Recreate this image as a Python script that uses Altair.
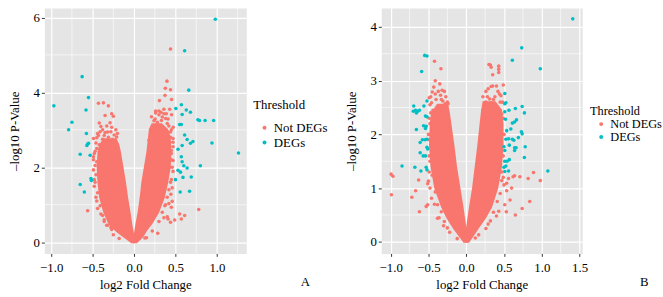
import altair as alt
import pandas as pd

RED = "#F8766D"
CYAN = "#00BFC4"
FONT = "Liberation Serif, Times New Roman, DejaVu Serif, serif"

# ---------------- Panel A data ----------------
a_ns_x = [-0.43, -0.37, -0.31, -0.35, -0.27, -0.25, -0.42, -0.40, -0.29, -0.27, -0.35, -0.45, -0.49, -0.24,
          -0.21, -0.32, -0.49, -0.49, -0.48, -0.48, -0.44, -0.45, -0.41, -0.38, -0.27, -0.28, -0.56, -0.49,
          -0.48, -0.45, -0.42, -0.47, -0.46, -0.32, -0.36,
          -0.46, -0.47, -0.46, -0.47, -0.45, -0.44, -0.40, -0.36, -0.33, -0.25, -0.18, -0.44, -0.38, -0.33,
          -0.22, -0.20,
          -0.43, -0.38, -0.30, -0.26, -0.40, -0.34, -0.22, -0.36, -0.28, -0.41, -0.31, -0.24,
          0.44, 0.397, 0.377, 0.44, 0.373, 0.452, 0.306, 0.325, 0.36, 0.389, 0.452, 0.254, 0.24, 0.34, 0.41,
          0.40, 0.294, 0.214, 0.35, 0.472, 0.44, 0.214, 0.27, 0.37, 0.18, 0.33, 0.47, 0.43, 0.47,
          0.55, 0.61, 0.57, 0.49, 0.78, 0.44, 0.41, 0.286, 0.13, 0.40, 0.36, 0.45, 0.37, 0.46, 0.42, 0.444,
          0.46, 0.45, 0.47, 0.43, 0.47, 0.45, 0.47,
          0.45, 0.46, 0.44, 0.42, 0.40, 0.38, 0.34, 0.30, 0.22, 0.15, 0.44, 0.45, 0.21, 0.26, 0.30, 0.43,
          0.45,
          0.24, 0.28, 0.32, 0.38, 0.42, 0.30, 0.36, 0.26, 0.40, 0.22, 0.33, 0.20]
a_ns_y = [3.71, 3.72, 3.64, 3.38, 3.43, 3.36, 3.18, 3.09, 3.19, 3.07, 2.93, 2.79, 2.77, 2.86,
          2.81, 2.94, 2.28, 1.93, 1.67, 1.49, 1.32, 1.10, 0.97, 0.71, 0.34, 0.39, 0.84, 2.20,
          2.37, 2.50, 2.60, 2.43, 2.65, 0.45, 0.60,
          1.20, 1.60, 1.80, 2.05, 2.15, 0.90, 0.75, 0.55, 0.45, 0.20, 0.10, 2.90, 3.00, 3.10,
          3.00, 2.90,
          2.85, 2.75, 2.70, 2.75, 2.55, 2.60, 2.65, 2.85, 2.95, 2.95, 2.80, 2.55,
          5.16, 4.30, 4.11, 4.07, 3.92, 3.81, 3.78, 3.47, 3.43, 3.43, 3.40, 3.29, 3.24, 3.34, 3.29,
          3.17, 3.12, 3.07, 3.03, 3.07, 2.94, 2.92, 2.88, 2.84, 2.72, 2.72, 2.77, 2.67, 2.67,
          0.75, 0.71, 0.62, 0.59, 0.87, 0.53, 0.62, 0.24, 0.11, 0.68, 0.65, 0.93, 0.97, 1.09, 1.03, 1.28,
          1.45, 1.67, 1.89, 2.00, 2.18, 2.37, 2.55,
          2.20, 2.00, 1.60, 1.40, 1.20, 1.00, 0.80, 0.55, 0.30, 0.12, 2.80, 3.00, 3.35, 3.45, 3.50, 3.55,
          2.45,
          3.00, 3.20, 3.10, 3.30, 3.10, 3.40, 3.55, 3.50, 2.95, 2.85, 3.25, 3.00]
a_deg_x = [-0.627, -0.55, -0.968, -0.58, -0.75, -0.79, -0.575, -0.55, -0.57, -0.56, -0.65, -0.53, -0.52,
           -0.515, -0.65, -0.60,
           0.98, 0.61, 0.66, 0.504, 0.571, 0.63, 0.68, 0.58, 0.77, 0.79, 0.857, 0.96, 0.55, 0.57, 0.61,
           0.64, 0.71, 0.68, 0.58, 0.94, 0.53, 1.26, 0.57, 0.58, 0.60, 0.64, 0.80, 0.53, 0.56, 0.50, 0.59,
           0.69, 0.556, 0.67]
a_deg_y = [4.42, 3.86, 3.64, 3.53, 3.20, 3.00, 2.90, 2.64, 2.58, 2.62, 2.35, 2.32, 1.70,
           1.65, 1.54, 1.34,
           5.95, 5.11, 4.06, 3.57, 3.67, 3.53, 3.47, 3.41, 3.27, 3.25, 3.25, 3.25, 3.14, 3.14, 2.86,
           2.74, 2.69, 2.64, 2.58, 2.65, 2.48, 2.38, 2.28, 2.15, 2.04, 1.98, 2.04, 1.92, 1.87, 1.67, 1.73,
           1.74, 1.34, 1.36]
# dense cloud envelope (left and right wings)
a_left_y = [0.00, 0.10, 0.18, 0.30, 0.50, 0.80, 1.20, 1.60, 2.00, 2.40, 2.60, 2.75]
a_left_outer = [-0.03, -0.09, -0.14, -0.21, -0.30, -0.36, -0.41, -0.43, -0.44, -0.43, -0.41, -0.36]
a_left_inner = [0.0, 0.0, -0.01, -0.02, -0.035, -0.055, -0.085, -0.11, -0.14, -0.17, -0.19, -0.22]
a_right_y = [0.00, 0.10, 0.18, 0.30, 0.50, 0.80, 1.20, 1.60, 2.00, 2.40, 2.80, 3.00, 3.15]
a_right_inner = [0.0, 0.0, 0.005, 0.015, 0.03, 0.055, 0.08, 0.10, 0.13, 0.16, 0.18, 0.19, 0.22]
a_right_outer = [0.03, 0.08, 0.11, 0.14, 0.21, 0.29, 0.36, 0.40, 0.43, 0.44, 0.43, 0.40, 0.33]

# ---------------- Panel B data ----------------
b_ns_x = [-0.42, -0.335, -0.41, -0.35, -0.43, -0.32, -0.29, -0.45, -0.34, -0.49, -0.40, -0.31, -0.46, -0.28,
          -0.24, -0.36,
          -0.995, -0.97, -0.99, -0.72, -0.67, -0.63, -0.62, -0.51, -0.53, -0.50, -0.51, -0.45, -0.46, -0.41,
          -0.38, -0.33, -0.38, -0.29, -0.25, -0.48, -0.49, -0.48, -0.47,
          -0.49, -0.48, -0.49, -0.50, -0.49, -0.48, -0.36, -0.30, -0.22, -0.12, -0.42, -0.47, -0.27, -0.25,
          -0.44, -0.38, -0.30, -0.27, -0.33, -0.41, -0.37,
          0.30, 0.32, 0.33, 0.43, 0.43, 0.43, 0.35, 0.33, 0.35, 0.40, 0.49, 0.46, 0.28, 0.31, 0.36, 0.24,
          0.33, 0.42, 0.47, 0.23,
          0.89, 0.82, 0.98, 0.84, 0.74, 0.65, 0.71, 0.62, 0.64, 0.60, 0.535, 0.58, 0.51, 0.53, 0.43, 0.40,
          0.32, 0.29, 0.165, 0.535, 0.50, 0.47, 0.56,
          0.48, 0.49, 0.50, 0.49, 0.47, 0.45, 0.41, 0.36, 0.26, 0.12, 0.22, 0.26, 0.44, 0.49,
          0.22, 0.26, 0.30, 0.38, 0.45, 0.42, 0.29]
b_ns_y = [3.36, 3.22, 3.00, 2.94, 2.88, 2.82, 2.80, 2.79, 2.73, 2.68, 2.65, 2.62, 2.59, 2.57,
          2.57, 2.53,
          1.26, 1.22, 0.875, 0.83, 0.95, 1.15, 0.56, 0.69, 0.66, 1.13, 1.08, 1.24, 0.81, 0.93,
          0.69, 0.56, 0.44, 0.38, 0.26, 1.50, 1.90, 2.20, 2.40,
          1.30, 1.00, 1.60, 2.00, 2.30, 2.55, 0.45, 0.30, 0.18, 0.06, 0.70, 2.70, 2.70, 2.60,
          2.45, 2.50, 2.45, 2.50, 2.65, 2.75, 2.80,
          3.30, 3.29, 3.25, 3.27, 3.21, 3.15, 3.11, 2.89, 2.90, 2.90, 2.92, 2.72, 2.70, 2.66, 2.65, 2.59,
          2.59, 2.46, 2.38, 2.53,
          1.29, 1.18, 1.14, 0.75, 0.62, 0.50, 1.21, 1.21, 1.23, 1.00, 0.95, 0.78, 0.69, 0.56, 0.57, 0.48,
          0.39, 0.33, 0.13, 1.09, 1.06, 1.14, 1.18,
          2.60, 2.30, 2.00, 1.60, 1.30, 0.90, 0.75, 0.55, 0.25, 0.07, 2.70, 2.80, 2.75, 1.20,
          2.45, 2.60, 2.55, 2.70, 2.60, 2.80, 2.85]
b_deg_x = [-0.55, -0.52, -0.59, -0.695, -0.70, -0.67, -0.64, -0.62, -0.66, -0.56, -0.54, -0.52, -0.565,
           -0.53, -0.54, -0.66, -0.58, -0.545, -0.61, -0.52, -0.51, -0.52, -0.61, -0.57, -0.54, -0.52,
           -0.85, -0.68, -0.53, -0.60, -0.52,
           1.41, 0.734, 0.61, 0.98, 0.51, 0.525, 0.51, 0.74, 0.65, 0.565, 0.51, 0.77, 0.665, 0.64, 0.61,
           0.52, 0.59, 0.535, 0.73, 0.74, 0.525, 0.56, 0.61, 0.63, 0.69, 0.78, 0.50, 0.57, 0.64, 0.64,
           0.66, 0.77, 0.51, 0.54, 0.51, 0.57, 0.525, 0.50, 0.56, 0.51, 1.08]
b_deg_y = [3.47, 3.46, 3.17, 2.53, 2.43, 2.45, 2.43, 2.45, 2.40, 2.53, 2.34, 2.33, 2.16,
           2.15, 2.11, 2.09, 1.90, 1.90, 1.85, 1.91, 1.73, 2.62, 1.66, 1.60, 1.60, 1.76,
           1.41, 1.39, 1.39, 1.32, 1.34,
           4.15, 3.61, 3.38, 3.22, 2.76, 2.59, 2.57, 2.52, 2.48, 2.45, 2.42, 2.40, 2.27, 2.23, 2.21,
           2.28, 2.10, 2.07, 2.05, 2.01, 1.91, 1.92, 1.91, 1.89, 1.94, 1.77, 1.77, 1.80, 1.75, 1.70,
           1.75, 1.57, 1.70, 1.50, 1.50, 1.53, 1.41, 1.39, 1.32, 1.31, 1.32]
b_left_y = [0.00, 0.08, 0.25, 0.45, 0.65, 1.00, 1.40, 1.80, 2.20, 2.40, 2.55]
b_left_outer = [-0.03, -0.07, -0.16, -0.25, -0.32, -0.41, -0.46, -0.48, -0.47, -0.45, -0.38]
b_left_inner = [0.0, 0.0, -0.01, -0.03, -0.05, -0.09, -0.135, -0.17, -0.21, -0.23, -0.25]
b_right_y = [0.00, 0.08, 0.25, 0.45, 0.65, 1.00, 1.40, 1.80, 2.20, 2.45, 2.60]
b_right_inner = [0.0, 0.0, 0.01, 0.03, 0.05, 0.09, 0.125, 0.16, 0.19, 0.21, 0.23]
b_right_outer = [0.03, 0.07, 0.15, 0.25, 0.33, 0.41, 0.46, 0.48, 0.48, 0.46, 0.38]


def panel(ns_x, ns_y, deg_x, deg_y, ly, lo, li, ry, ri, ro,
          xdom, ydom, xt, xm, yt, ym, tag, lx, lyy, tpad, rpad, lfs, w, h, tagxy):
    xs = alt.Scale(domain=xdom, nice=False, zero=False)
    ys = alt.Scale(domain=ydom, nice=False, zero=False)
    xaxis = alt.Axis(values=xt, format=".1f", title="log2 Fold Change", grid=True)
    yaxis = alt.Axis(values=yt, format="d", title="–log10 P-Value", grid=True)

    minor_x = alt.Chart(pd.DataFrame({"mx": xm})).mark_rule(color="white", strokeWidth=0.6).encode(
        x=alt.X("mx:Q", scale=xs, axis=xaxis))
    minor_y = alt.Chart(pd.DataFrame({"my": ym})).mark_rule(color="white", strokeWidth=0.6).encode(
        y=alt.Y("my:Q", scale=ys, axis=yaxis))

    left = alt.Chart(pd.DataFrame({"y": ly, "xo": lo, "xi": li})).mark_area(
        orient="horizontal", color=RED, stroke=RED, strokeWidth=2).encode(
        y=alt.Y("y:Q", scale=ys, axis=yaxis),
        x=alt.X("xo:Q", scale=xs, axis=xaxis, stack=False),
        x2="xi:Q")
    right = alt.Chart(pd.DataFrame({"y": ry, "xo": ro, "xi": ri})).mark_area(
        orient="horizontal", color=RED, stroke=RED, strokeWidth=2).encode(
        y=alt.Y("y:Q", scale=ys, axis=yaxis),
        x=alt.X("xi:Q", scale=xs, axis=xaxis, stack=False),
        x2="xo:Q")

    pts = pd.DataFrame({
        "x": ns_x + deg_x,
        "y": ns_y + deg_y,
        "Threshold": ["Not DEGs"] * len(ns_x) + ["DEGs"] * len(deg_x),
        "o": list(range(len(ns_x) + len(deg_x))),
    })
    points = alt.Chart(pts).mark_circle(size=13, opacity=1).encode(
        x=alt.X("x:Q", scale=xs, axis=xaxis),
        y=alt.Y("y:Q", scale=ys, axis=yaxis),
        color=alt.Color("Threshold:N",
                        scale=alt.Scale(domain=["Not DEGs", "DEGs"], range=[RED, CYAN]),
                        legend=alt.Legend(orient="none", legendX=lx, legendY=lyy, title="Threshold",
                                          titlePadding=tpad, rowPadding=rpad, symbolOffset=5,
                                          labelOffset=3, labelFontSize=lfs, titleFontSize=lfs)),
        order="o:Q")

    label = alt.Chart(pd.DataFrame({"t": [tag]})).mark_text(
        font=FONT, fontSize=13, color="#000000", align="center", baseline="middle").encode(
        x=alt.value(tagxy[0]), y=alt.value(tagxy[1]), text="t:N")

    return alt.layer(minor_x, minor_y, left, right, points, label).properties(width=w, height=h)


chartA = panel(a_ns_x, a_ns_y, a_deg_x, a_deg_y, a_left_y, a_left_outer, a_left_inner,
               a_right_y, a_right_inner, a_right_outer,
               [-1.083, 1.354], [-0.30, 6.25],
               [-1.0, -0.5, 0.0, 0.5, 1.0], [-0.75, -0.25, 0.25, 0.75, 1.25],
               [0, 2, 4, 6], [1, 3, 5],
               "A", 212, 92, 10, 1, 13, 205, 249, (265, 278))
chartB = panel(b_ns_x, b_ns_y, b_deg_x, b_deg_y, b_left_y, b_left_outer, b_left_inner,
               b_right_y, b_right_inner, b_right_outer,
               [-1.125, 1.535], [-0.215, 4.35],
               [-1.0, -0.5, 0.0, 0.5, 1.0, 1.5], [-0.75, -0.25, 0.25, 0.75, 1.25],
               [0, 1, 2, 3, 4], [0.5, 1.5, 2.5, 3.5],
               "B", 212, 98, 1, 0, 12.5, 204, 249, (267, 278))

chart = alt.hconcat(chartA, chartB, spacing=137, bounds="flush").resolve_scale(
    x="independent", y="independent", color="independent").properties(
    padding={"left": 8, "top": 5, "right": 0, "bottom": 1}
).configure_view(fill="#E5E5E5", stroke="transparent").configure_axis(
    labelFont=FONT, titleFont=FONT, labelFontSize=13, titleFontSize=13, titleFontWeight="normal",
    labelColor="#000000", titleColor="#000000", gridColor="white", gridWidth=1.2,
    tickColor="#333333", tickSize=3, tickWidth=1, domain=False, labelPadding=2
).configure_axisX(titlePadding=5, labelPadding=5).configure_axisY(titlePadding=12).configure_legend(
    labelFont=FONT, titleFont=FONT, titleFontWeight="normal", padding=0,
    labelColor="#000000", titleColor="#000000", symbolType="circle", symbolSize=16, symbolStrokeWidth=0
)

chart.save("out.html", embed_options={"renderer": "svg", "actions": False})
